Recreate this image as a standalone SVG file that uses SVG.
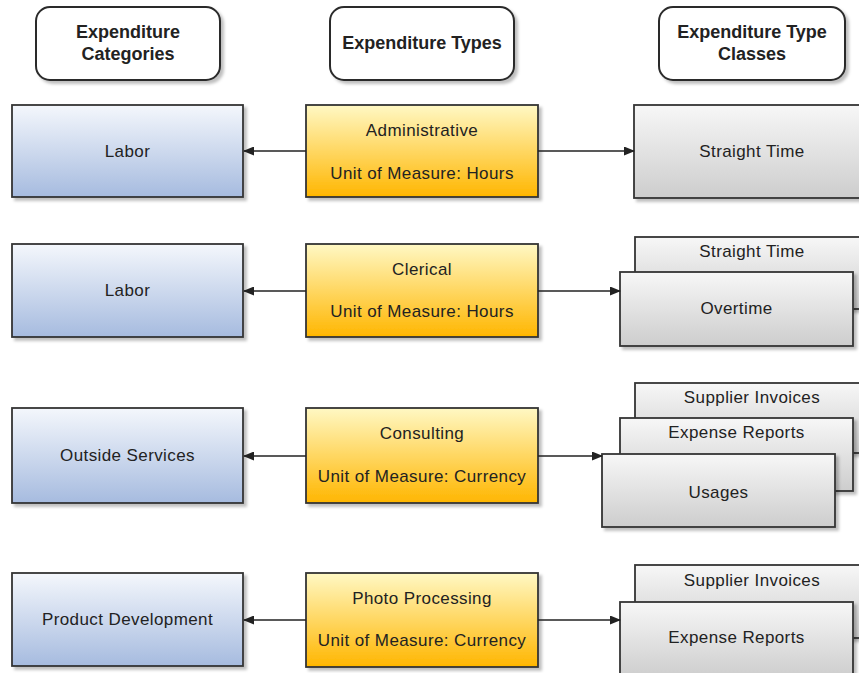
<svg xmlns="http://www.w3.org/2000/svg" width="859" height="673" viewBox="0 0 859 673">
<style>
text{font-family:"Liberation Sans",Arial,sans-serif;fill:#222;text-anchor:middle;dominant-baseline:central}
.t{font-size:17px;letter-spacing:0.4px}
.h{font-size:18px;font-weight:bold}
.hdr{fill:#fff;stroke:#2a2a2a;stroke-width:2}
.box{stroke:#333;stroke-width:1.8}
.blue{fill:url(#gb)}
.yel{fill:url(#gy)}
.gry{fill:url(#gg)}
.c{stroke:#222;stroke-width:1.6;fill:none;marker-end:url(#ah)}
</style>
<defs>
<linearGradient id="gb" x1="0" y1="0" x2="0" y2="1"><stop offset="0" stop-color="#f4f7fc"/><stop offset="1" stop-color="#a6bbdf"/></linearGradient>
<linearGradient id="gy" x1="0" y1="0" x2="0" y2="1"><stop offset="0" stop-color="#fff8c4"/><stop offset="1" stop-color="#ffb600"/></linearGradient>
<linearGradient id="gg" x1="0" y1="0" x2="0" y2="1"><stop offset="0" stop-color="#f7f7f7"/><stop offset="1" stop-color="#cdcdcd"/></linearGradient>
<filter id="sh" x="-10%" y="-10%" width="130%" height="130%"><feDropShadow dx="3" dy="3" stdDeviation="1.5" flood-color="#000" flood-opacity="0.25"/></filter>
<marker id="ah" markerWidth="11" markerHeight="9" refX="10" refY="4.5" orient="auto" markerUnits="userSpaceOnUse"><path d="M0,0 L11,4.5 L0,9 z" fill="#222"/></marker>
</defs>

<g id="header-categories"><rect class="hdr" x="36" y="7" width="184" height="73" rx="14" filter="url(#sh)"/><text class="h" x="128" y="32">Expenditure</text><text class="h" x="128" y="54">Categories</text></g>
<g id="header-types"><rect class="hdr" x="330" y="7" width="184" height="73" rx="14" filter="url(#sh)"/><text class="h" x="422" y="43">Expenditure Types</text></g>
<g id="header-classes"><rect class="hdr" x="659" y="7" width="186" height="73" rx="14" filter="url(#sh)"/><text class="h" x="752" y="32">Expenditure Type</text><text class="h" x="752" y="54">Classes</text></g>

<g id="cat-labor-1"><rect class="box blue" x="12" y="105" width="231" height="92" filter="url(#sh)"/><text class="t" x="127.5" y="151">Labor</text></g>
<g id="type-administrative"><rect class="box yel" x="306" y="105" width="232" height="92" filter="url(#sh)"/><text class="t" x="422" y="130">Administrative</text><text class="t" x="422" y="173">Unit of Measure: Hours</text></g>
<g id="class-straight-time-1"><rect class="box gry" x="634" y="105" width="236" height="93" filter="url(#sh)"/><text class="t" x="752" y="151">Straight Time</text></g>

<g id="cat-labor-2"><rect class="box blue" x="12" y="244" width="231" height="93" filter="url(#sh)"/><text class="t" x="127.5" y="290">Labor</text></g>
<g id="type-clerical"><rect class="box yel" x="306" y="244" width="232" height="93" filter="url(#sh)"/><text class="t" x="422" y="269">Clerical</text><text class="t" x="422" y="311">Unit of Measure: Hours</text></g>
<g id="class-straight-time-2"><rect class="box gry" x="635" y="237" width="233" height="72" filter="url(#sh)"/><text class="t" x="752" y="251">Straight Time</text></g>
<g id="class-overtime"><rect class="box gry" x="620" y="272" width="233" height="74" filter="url(#sh)"/><text class="t" x="736.5" y="308">Overtime</text></g>

<g id="cat-outside-services"><rect class="box blue" x="12" y="408" width="231" height="95" filter="url(#sh)"/><text class="t" x="127.5" y="455">Outside Services</text></g>
<g id="type-consulting"><rect class="box yel" x="306" y="408" width="232" height="95" filter="url(#sh)"/><text class="t" x="422" y="433">Consulting</text><text class="t" x="422" y="476">Unit of Measure: Currency</text></g>
<g id="class-supplier-invoices-1"><rect class="box gry" x="635" y="383" width="233" height="70" filter="url(#sh)"/><text class="t" x="752" y="397">Supplier Invoices</text></g>
<g id="class-expense-reports-1"><rect class="box gry" x="620" y="418" width="233" height="73" filter="url(#sh)"/><text class="t" x="736.5" y="432">Expense Reports</text></g>
<g id="class-usages"><rect class="box gry" x="602" y="454" width="233" height="73" filter="url(#sh)"/><text class="t" x="718.5" y="492">Usages</text></g>

<g id="cat-product-development"><rect class="box blue" x="12" y="573" width="231" height="93" filter="url(#sh)"/><text class="t" x="127.5" y="619">Product Development</text></g>
<g id="type-photo-processing"><rect class="box yel" x="306" y="573" width="232" height="94" filter="url(#sh)"/><text class="t" x="422" y="598">Photo Processing</text><text class="t" x="422" y="640">Unit of Measure: Currency</text></g>
<g id="class-supplier-invoices-2"><rect class="box gry" x="635" y="565" width="233" height="73" filter="url(#sh)"/><text class="t" x="752" y="580">Supplier Invoices</text></g>
<g id="class-expense-reports-2"><rect class="box gry" x="620" y="602" width="233" height="76" filter="url(#sh)"/><text class="t" x="736.5" y="637">Expense Reports</text></g>

<g id="connectors">
<line class="c" x1="306" y1="151" x2="244" y2="151"/>
<line class="c" x1="538" y1="151" x2="634" y2="151"/>
<line class="c" x1="306" y1="291" x2="244" y2="291"/>
<line class="c" x1="538" y1="291" x2="620" y2="291"/>
<line class="c" x1="306" y1="456" x2="244" y2="456"/>
<line class="c" x1="538" y1="456" x2="602" y2="456"/>
<line class="c" x1="306" y1="620" x2="244" y2="620"/>
<line class="c" x1="538" y1="620" x2="620" y2="620"/>
</g>
</svg>
